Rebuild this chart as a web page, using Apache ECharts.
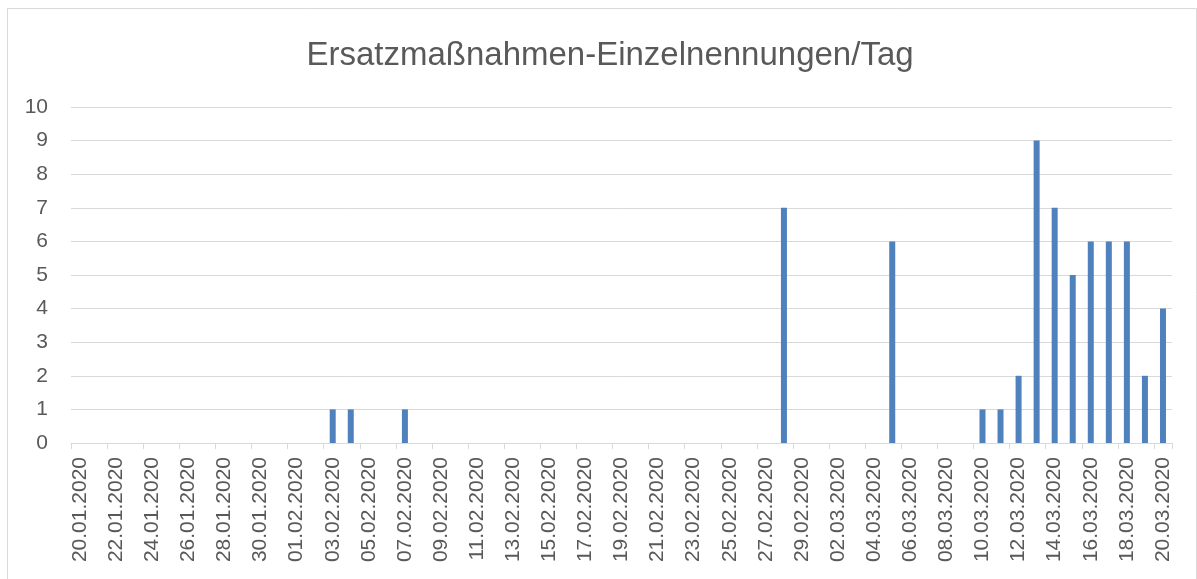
<!DOCTYPE html>
<html>
<head>
    <meta charset="UTF-8">
    <title>Ersatzmaßnahmen</title>
    <script src="https://cdn.jsdelivr.net/npm/echarts@6/dist/echarts.min.js"></script>
    <style>
        body { margin: 0; background: #fff; }
    </style>
</head>
<body>
    <div id="chart" style="width:1197px; height:579px;"></div>
    <script>
        // one category per day, 20.01.2020 - 20.03.2020
        var days = [
            '20.01.2020', '21.01.2020', '22.01.2020', '23.01.2020', '24.01.2020', '25.01.2020',
            '26.01.2020', '27.01.2020', '28.01.2020', '29.01.2020', '30.01.2020', '31.01.2020',
            '01.02.2020', '02.02.2020', '03.02.2020', '04.02.2020', '05.02.2020', '06.02.2020',
            '07.02.2020', '08.02.2020', '09.02.2020', '10.02.2020', '11.02.2020', '12.02.2020',
            '13.02.2020', '14.02.2020', '15.02.2020', '16.02.2020', '17.02.2020', '18.02.2020',
            '19.02.2020', '20.02.2020', '21.02.2020', '22.02.2020', '23.02.2020', '24.02.2020',
            '25.02.2020', '26.02.2020', '27.02.2020', '28.02.2020', '29.02.2020',
            '01.03.2020', '02.03.2020', '03.03.2020', '04.03.2020', '05.03.2020', '06.03.2020',
            '07.03.2020', '08.03.2020', '09.03.2020', '10.03.2020', '11.03.2020', '12.03.2020',
            '13.03.2020', '14.03.2020', '15.03.2020', '16.03.2020', '17.03.2020', '18.03.2020',
            '19.03.2020', '20.03.2020'
        ];
        var janValues = [0, 0, 0, 0, 0, 0, 0, 0, 0, 0, 0, 0];
        var febValues = [0, 0, 1, 1, 0, 0, 1, 0, 0, 0, 0, 0, 0, 0, 0, 0, 0, 0, 0, 0,
                         0, 0, 0, 0, 0, 0, 0, 7, 0];
        var marValues = [0, 0, 0, 0, 6, 0, 0, 0, 0, 1, 1, 2, 9, 7, 5, 6, 6, 6, 2, 4];
        var yTicks = [0, 10, 1]; // min, max, interval

        var counts = janValues.concat(febValues, marValues);
        var font = 'Liberation Sans';
        var grey = '#595959';
        var lineGrey = '#d9d9d9';

        var chart = echarts.init(document.getElementById('chart'), null, {renderer: 'canvas'});
        chart.setOption({
            animation: false,
            backgroundColor: '#fff',
            title: {
                text: 'Ersatzmaßnahmen-Einzelnennungen/Tag',
                left: 605,
                textAlign: 'center',
                top: 34,
                textStyle: {fontFamily: font, fontSize: 33, fontWeight: 'normal', color: grey}
            },
            graphic: [{
                type: 'rect',
                shape: {x: 7.5, y: 8.5, width: 1189, height: 620},
                style: {fill: 'none', stroke: lineGrey, lineWidth: 1},
                silent: true
            }],
            grid: {left: 71, right: 25, top: 107, bottom: 136},
            xAxis: {
                type: 'category',
                data: days,
                boundaryGap: true,
                axisLine: {lineStyle: {color: lineGrey, width: 1}},
                axisTick: {show: true, interval: 1, alignWithLabel: false, length: 6,
                           lineStyle: {color: lineGrey}},
                axisLabel: {interval: 1, rotate: 90, margin: 14, color: grey,
                            fontFamily: font, fontSize: 21}
            },
            yAxis: {
                type: 'value',
                min: yTicks[0],
                max: yTicks[1],
                interval: yTicks[2],
                axisLine: {show: false},
                axisTick: {show: false},
                axisLabel: {margin: 23, color: grey, fontFamily: font, fontSize: 21},
                splitLine: {lineStyle: {color: lineGrey, width: 1}}
            },
            series: [{
                type: 'bar',
                data: counts,
                barWidth: 6,
                itemStyle: {color: '#4f81bd'}
            }]
        });
    </script>
</body>
</html>
